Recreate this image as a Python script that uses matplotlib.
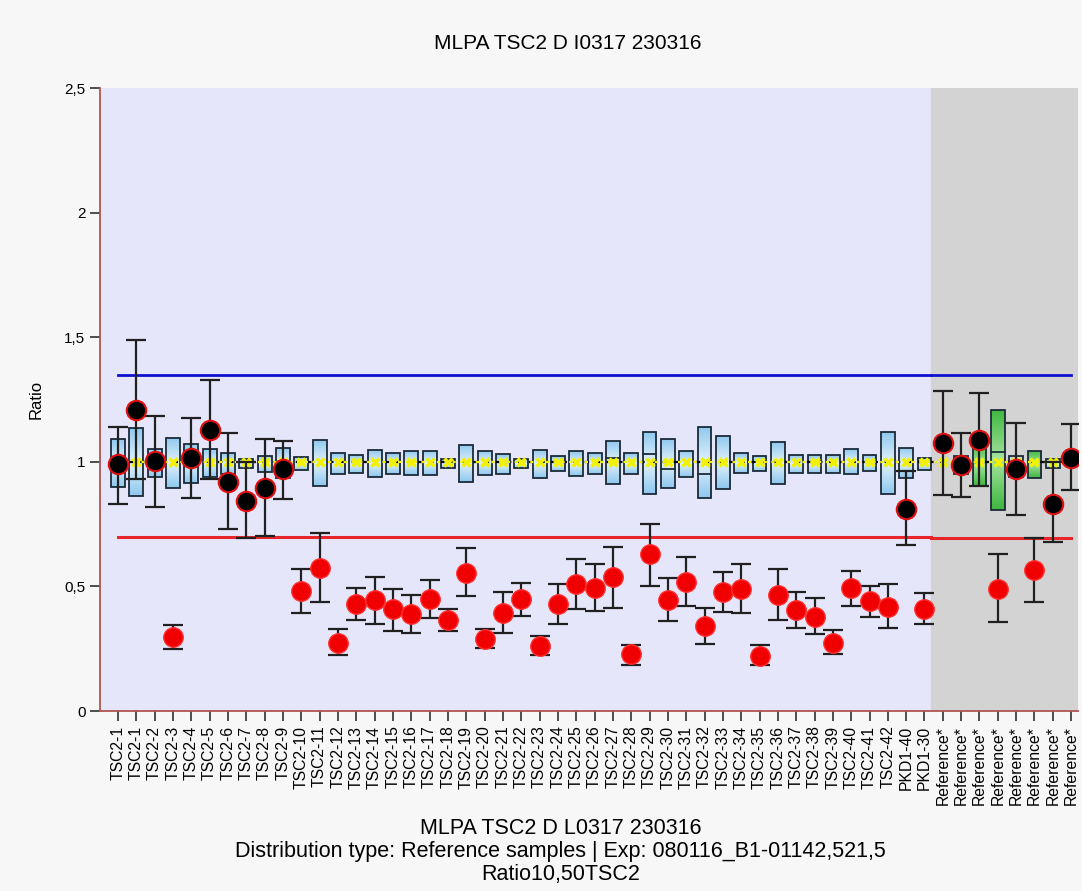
import numpy as np
import matplotlib.pyplot as plt
from matplotlib.patches import Rectangle
from matplotlib.colors import LinearSegmentedColormap

plt.rcParams['font.family'] = ['Liberation Sans', 'DejaVu Sans']

# the data
labels = ['TSC2-1', 'TSC2-1'] + ['TSC2-%d' % i for i in range(2, 43)] + \
         ['PKD1-40', 'PKD1-30'] + ['Reference*'] * 8

box_lo = [0.90, 0.864, 0.94, 0.896, 0.916, 0.94, 0.953, 0.977, 0.96, 0.936,
          0.969, 0.904, 0.953, 0.957, 0.94, 0.953, 0.948, 0.948, 0.977, 0.92,
          0.948, 0.953, 0.977, 0.936, 0.965, 0.945, 0.953, 0.912, 0.953, 0.872,
          0.896, 0.94, 0.856, 0.892, 0.957, 0.965, 0.912, 0.957, 0.957, 0.957,
          0.953, 0.965, 0.872, 0.936, 0.969,
          1.0, 0.953, 0.904, 0.808, 0.94, 0.936, 0.977, 1.0]
box_hi = [1.093, 1.137, 1.053, 1.097, 1.073, 1.053, 1.037, 1.013, 1.025, 1.057,
          1.021, 1.089, 1.037, 1.029, 1.049, 1.037, 1.045, 1.045, 1.013, 1.069,
          1.045, 1.033, 1.01, 1.049, 1.025, 1.045, 1.037, 1.085, 1.037, 1.121,
          1.093, 1.045, 1.141, 1.105, 1.037, 1.025, 1.081, 1.029, 1.029, 1.029,
          1.053, 1.029, 1.121, 1.057, 1.017,
          1.0, 1.025, 1.073, 1.21, 1.025, 1.045, 1.013, 1.0]
box_med = [1.0, 0.93, 1.0, 1.0, 1.0, 1.0, 1.0, 1.0, 1.0, 1.0,
           1.0, 1.0, 1.0, 1.0, 1.0, 1.0, 1.0, 1.0, 1.0, 1.0,
           1.0, 1.0, 1.0, 1.0, 1.0, 1.0, 1.0, 1.017, 1.0, 1.033,
           0.973, 1.0, 0.953, 1.0, 1.0, 1.0, 1.0, 1.0, 1.0, 1.0,
           1.0, 1.0, 1.0, 1.0, 1.0,
           1.0, 1.0, 1.0, 1.04, 1.0, 1.0, 1.0, 1.0]
box_kind = ['blue'] * 45 + ['none', 'gray', 'green', 'green', 'gray', 'green', 'blue', 'none']

ratio = [0.99, 1.21, 1.005, 0.297, 1.017, 1.129, 0.92, 0.844, 0.896, 0.973,
         0.482, 0.575, 0.273, 0.43, 0.446, 0.41, 0.39, 0.45, 0.366, 0.555,
         0.289, 0.394, 0.45, 0.261, 0.43, 0.51, 0.494, 0.539, 0.229, 0.631,
         0.446, 0.518, 0.342, 0.478, 0.49, 0.221, 0.466, 0.406, 0.378, 0.273,
         0.494, 0.442, 0.418, 0.812, 0.41,
         1.077, 0.989, 1.089, 0.49, 0.973, 0.567, 0.832, 1.017]
err_lo = [0.83, 0.93, 0.82, 0.249, 0.856, 0.93, 0.731, 0.695, 0.703, 0.852,
          0.394, 0.438, 0.225, 0.366, 0.35, 0.32, 0.314, 0.374, 0.32, 0.462,
          0.253, 0.314, 0.382, 0.225, 0.35, 0.41, 0.40, 0.414, 0.185, 0.502,
          0.362, 0.422, 0.269, 0.398, 0.394, 0.185, 0.366, 0.334, 0.31, 0.229,
          0.422, 0.378, 0.334, 0.667, 0.35,
          0.868, 0.86, 0.904, 0.358, 0.788, 0.438, 0.679, 0.888]
err_hi = [1.14, 1.49, 1.186, 0.346, 1.178, 1.33, 1.117, 1.0, 1.093, 1.085,
          0.571, 0.715, 0.33, 0.494, 0.539, 0.49, 0.466, 0.527, 0.41, 0.655,
          0.33, 0.478, 0.514, 0.30, 0.51, 0.61, 0.59, 0.66, 0.265, 0.752,
          0.535, 0.619, 0.414, 0.559, 0.59, 0.265, 0.571, 0.478, 0.454, 0.326,
          0.563, 0.502, 0.51, 0.965, 0.474,
          1.286, 1.117, 1.278, 0.631, 1.158, 0.695, 1.0, 1.153]

upper_limit = 1.35
lower_limit = [0.70, 0.695]
n_samples = 45

fig = plt.figure(figsize=(10.82, 8.91), dpi=100)
fig.patch.set_facecolor('#f7f7f7')
ax = fig.add_axes([0.0924, 0.202, 0.904, 0.699])
ax.set_facecolor('#e6e6fa')

ind = np.arange(len(labels))
width = 0.76
x_left, x_right = -0.98, len(labels) - 0.62

# reference area
ax.axvspan(n_samples - 0.66, x_right, color='#d3d3d3', zorder=0)

# limit lines
ax.plot([0, n_samples - 0.66], [upper_limit] * 2, color='#1010d0', lw=2, zorder=1)
ax.plot([n_samples - 0.66, len(labels) - 1], [upper_limit] * 2, color='#1010d0', lw=2, zorder=1)
ax.plot([0, n_samples - 0.66], [lower_limit[0]] * 2, color='#e8252a', lw=2.2, zorder=1)
ax.plot([n_samples - 0.66, len(labels) - 1], [lower_limit[1]] * 2, color='#e8252a', lw=2.2, zorder=1)

# boxes with gradient
cmaps = {'blue': ['#8fc8ef', '#e2f1fb', '#8fc8ef'],
         'green': ['#3fb83f', '#a6e3a0', '#3fb83f'],
         'gray': ['#cfcfcf', '#dcdcdc', '#cfcfcf']}
grad = np.linspace(0, 1, 50).reshape(-1, 1)
for i in ind:
    kind = box_kind[i]
    if kind == 'none':
        continue
    x0 = ind[i] - width / 2
    rect = Rectangle((x0, box_lo[i]), width, box_hi[i] - box_lo[i],
                     facecolor='none', edgecolor='#1c2a38', lw=1.3, zorder=3)
    ax.add_patch(rect)
    cm = LinearSegmentedColormap.from_list(kind, cmaps[kind])
    im = ax.imshow(grad, extent=[x0, x0 + width, box_lo[i], box_hi[i]],
                   aspect='auto', cmap=cm, zorder=2, origin='lower')
    im.set_clip_path(rect)
    if abs(box_med[i] - 1.0) > 0.005:
        ax.plot([x0, x0 + width], [box_med[i]] * 2, color='#1c2a38', lw=1.3, zorder=3)

ax.set_xlim(x_left, x_right)
ax.set_ylim(0, 2.5)

# median line at 1
ones = np.ones(len(labels))
ax.plot(ind, ones, color='black', ls=(0, (2, 3)), lw=1.6, zorder=4)
ax.plot(ind, ones, color='#f2f200', ls=(0, (1.5, 2)), lw=1.6, marker='x',
        ms=6, mew=2.5, zorder=4)

# error bars and points
ratio = np.array(ratio)
ax.errorbar(ind, ratio, yerr=[ratio - np.array(err_lo), np.array(err_hi) - ratio],
            fmt='none', ecolor='#202020', elinewidth=1.6, capsize=7, capthick=1.6, zorder=5)
low = ratio < lower_limit[0]
ax.plot(ind[~low], ratio[~low], 'o', color='black', mec='#e01010', mew=1.5, ms=14, zorder=6)
ax.plot(ind[low], ratio[low], 'o', color='#f00000', mec='#ff3030', mew=1.0, ms=14, zorder=6)

# axes and labels
ax.set_xticks(ind)
ax.set_xticklabels(labels, rotation=90, fontsize=11.3)
ax.set_yticks([0, 0.5, 1, 1.5, 2, 2.5])
ax.set_yticklabels(['0', '0,5', '1', '1,5', '2', '2,5'], fontsize=11)
ax.tick_params(axis='both', direction='out', length=7, width=1.2, color='#303030')
for s in ['top', 'right']:
    ax.spines[s].set_visible(False)
for s in ['left', 'bottom']:
    ax.spines[s].set_color('#b05550')
    ax.spines[s].set_linewidth(1.3)
ax.set_ylabel('Ratio', fontsize=12, labelpad=15)

fig.text(0.525, 0.951, 'MLPA TSC2 D I0317 230316', ha='center', va='center', fontsize=15)
fig.text(0.518, 0.070, 'MLPA TSC2 D L0317 230316', ha='center', va='center', fontsize=15.5)
fig.text(0.518, 0.044, 'Distribution type: Reference samples | Exp: 080116_B1-01142,521,5',
         ha='center', va='center', fontsize=15.5)
fig.text(0.518, 0.019, 'Ratio10,50TSC2', ha='center', va='center', fontsize=15.5)

fig.savefig('out.png', dpi=100, facecolor=fig.get_facecolor())
